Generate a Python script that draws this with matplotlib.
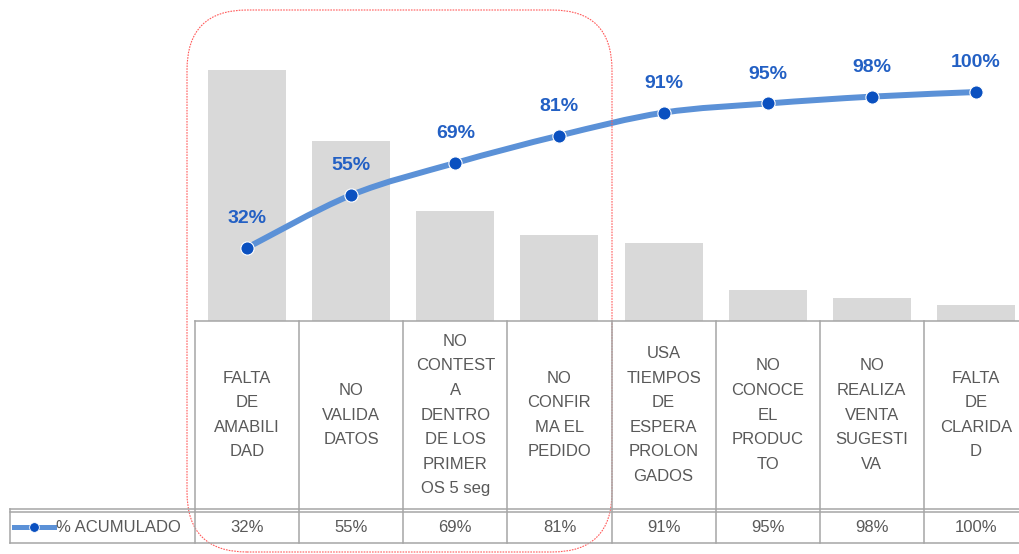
import numpy as np
import matplotlib
matplotlib.use('Agg')
import matplotlib.pyplot as plt
from matplotlib.path import Path
from matplotlib.patches import PathPatch, FancyBboxPatch
from matplotlib.lines import Line2D
from matplotlib.transforms import blended_transform_factory, IdentityTransform

plt.rcParams['font.family'] = ['Liberation Sans', 'DejaVu Sans']

# data
categories = [
    "FALTA\nDE\nAMABILI\nDAD",
    "NO\nVALIDA\nDATOS",
    "NO\nCONTEST\nA\nDENTRO\nDE LOS\nPRIMER\nOS 5 seg",
    "NO\nCONFIR\nMA EL\nPEDIDO",
    "USA\nTIEMPOS\nDE\nESPERA\nPROLON\nGADOS",
    "NO\nCONOCE\nEL\nPRODUC\nTO",
    "NO\nREALIZA\nVENTA\nSUGESTI\nVA",
    "FALTA\nDE\nCLARIDA\nD",
]
frecuencia = [32, 23, 14, 11, 10, 4, 3, 2]
acumulado = [32, 55, 69, 81, 91, 95, 98, 100]
serie_label = "% ACUMULADO"

W, H = 1019, 554
BAR = '#d9d9d9'
LINE = '#5b91d7'
MARK = '#0a50c0'
LABEL = '#2360c4'
GRID = '#a6a6a6'
TXT = '#595959'


def fy(p):
    # pixel row from top -> figure fraction
    return 1 - p / H


fig = plt.figure(figsize=(W / 100, H / 100), dpi=100)
ax = fig.add_axes([195 / W, fy(321), 833 / W, 321 / H])
x = np.arange(len(categories))
ax.bar(x, frecuencia, width=0.75, color=BAR)
ax.set_xlim(-0.5, len(categories) - 0.5)
ax.set_ylim(0, 41.0)
ax.axis('off')

ax2 = ax.twinx()
ax2.set_ylim(0, 140.2)
ax2.axis('off')

# smoothed line (catmull-rom -> bezier)
pts = np.column_stack([x, acumulado]).astype(float)
ext = np.vstack([pts[0], pts, pts[-1]])
verts = [tuple(pts[0])]
codes = [Path.MOVETO]
for i in range(len(pts) - 1):
    p0, p1, p2, p3 = ext[i], ext[i + 1], ext[i + 2], ext[i + 3]
    c1 = p1 + (p2 - p0) / 6
    c2 = p2 - (p3 - p1) / 6
    verts += [tuple(c1), tuple(c2), tuple(p2)]
    codes += [Path.CURVE4] * 3
ax2.add_patch(PathPatch(Path(verts, codes), fill=False, edgecolor=LINE,
                        lw=4.3, capstyle='round', zorder=3))
ax2.plot(x, acumulado, 'o', ms=9.5, mfc=MARK, mec='white', mew=0.8, zorder=4)
for xi, v in zip(x, acumulado):
    ax2.annotate(f'{v}%', (xi, v), xytext=(0, 21), textcoords='offset points',
                 ha='center', va='center', color=LABEL, fontsize=14,
                 fontweight='bold')

# data table under the plot
tr = blended_transform_factory(ax.transData, fig.transFigure)
edges = np.arange(len(categories) + 1) - 0.5
lw = 1.1
for e in edges:
    fig.add_artist(Line2D([e, e], [fy(321), fy(543)], transform=tr,
                          color=GRID, lw=lw))
fig.add_artist(Line2D([edges[0], edges[-1]], [fy(321), fy(321)], transform=tr,
                      color=GRID, lw=lw))
for p in (509, 512, 543):
    fig.add_artist(Line2D([10 / W, 1.0], [fy(p), fy(p)],
                          transform=fig.transFigure, color=GRID, lw=lw))
fig.add_artist(Line2D([10 / W, 10 / W], [fy(509), fy(543)],
                      transform=fig.transFigure, color=GRID, lw=lw))

for xi, cat, v in zip(x, categories, acumulado):
    fig.text(xi, fy(415), cat, transform=tr, ha='center', va='center',
             fontsize=12, color=TXT, linespacing=1.8)
    fig.text(xi, fy(527), f'{v}%', transform=tr, ha='center', va='center',
             fontsize=12, color=TXT)

# legend key in the table
fig.add_artist(Line2D([14 / W, 54 / W], [fy(527), fy(527)],
                      transform=fig.transFigure, color=LINE, lw=3.6))
fig.add_artist(Line2D([34 / W], [fy(527)], transform=fig.transFigure,
                      marker='o', ms=7, mfc=MARK, mec='white', mew=0.6))
fig.text(56 / W, fy(527), serie_label, ha='left', va='center', fontsize=12,
         color=TXT)

# highlight box
box = FancyBboxPatch((187, H - 552), 612 - 187, 552 - 10,
                     boxstyle='round,pad=0,rounding_size=60',
                     transform=IdentityTransform(), fill=False,
                     edgecolor='#ff5a5a', lw=0.8, linestyle=(0, (1.5, 1)))
fig.add_artist(box)

fig.savefig('out.png', dpi=100)
